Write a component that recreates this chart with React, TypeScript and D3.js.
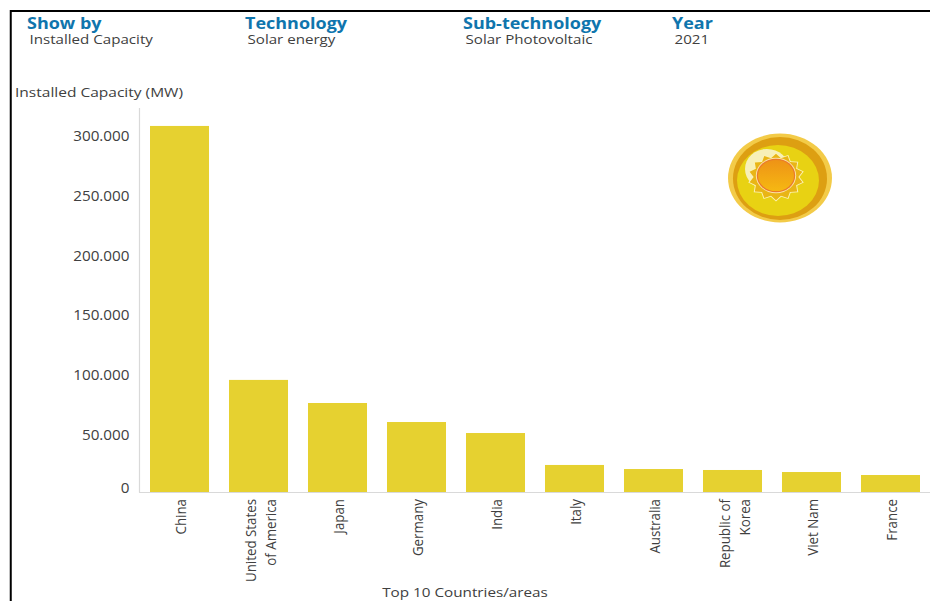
import React from "react";
import * as d3 from "d3";

const WIDTH = 930;
const HEIGHT = 601;

const countries = [
  ["China"],
  ["United States", "of America"],
  ["Japan"],
  ["Germany"],
  ["India"],
  ["Italy"],
  ["Australia"],
  ["Republic of", "Korea"],
  ["Viet Nam"],
  ["France"],
];
const capacityMW = [306000, 93700, 74400, 58500, 49300, 22600, 19200, 18400, 16700, 14200];
const yTicks = [0, 50000, 100000, 150000, 200000, 250000, 300000];
const headerTitles = ["Show by", "Technology", "Sub-technology", "Year"];
const headerValues = ["Installed Capacity", "Solar energy", "Solar Photovoltaic", "2021"];
const headerX = [27, 245, 463, 672];

const FONT = "'Open Sans', sans-serif";
const INK = "#404040";
const BLUE = "#0f75ad";
const BAR = "#e6d130";
const AXIS = "#d9d9d9";

// Thousands are grouped with a dot, as in the axis of the source tool.
const formatTick = (v: number) => d3.format(",")(v).replace(/,/g, ".");

// Decorative sun badge: a scalloped star drawn with d3's radial line.
function SunBadge({ cx, cy }: { cx: number; cy: number }) {
  const points = 14;
  const ray = d3
    .lineRadial<number>()
    .angle((i) => (i / (points * 2)) * 2 * Math.PI)
    .radius((i) => (i % 2 === 0 ? 28.5 : 23.5))
    .curve(d3.curveLinearClosed);
  const star = ray(d3.range(points * 2)) ?? "";
  return (
    <g style={{ filter: "blur(0.7px)" }}>
      <defs>
        <linearGradient id="sun-core" x1="0" y1="0" x2="0" y2="1">
          <stop offset="0" stopColor="#ee9316" />
          <stop offset="1" stopColor="#f6b812" />
        </linearGradient>
      </defs>
      <ellipse cx={cx} cy={cy} rx={52} ry={44.5} fill="#f3cb48" />
      <ellipse cx={cx} cy={cy + 0.5} rx={47} ry={41.5} fill="#dd9f12" />
      <ellipse cx={cx - 2} cy={cy + 2.5} rx={41} ry={35.5} fill="#e8d213" />
      <ellipse cx={cx - 13} cy={cy - 9} rx={22} ry={20} fill="#f7f0b8" />
      <g transform={`translate(${cx - 4},${cy - 1}) scale(1,0.86)`}>
        <path d={star} fill="#fbf2b4" />
        <path d={star} fill="#e9b516" transform="scale(0.95)" />
      </g>
      <ellipse cx={cx - 4} cy={cy - 2.5} rx={20.2} ry={17.8} fill="#fbe2a8" />
      <ellipse cx={cx - 4} cy={cy - 2.5} rx={19.2} ry={16.8} fill="#ea7a2a" />
      <ellipse cx={cx - 4} cy={cy - 2.5} rx={18} ry={15.6} fill="url(#sun-core)" />
    </g>
  );
}

export default function App() {
  const x = d3
    .scaleBand<number>()
    .domain(d3.range(countries.length))
    .range([150, 920])
    .paddingInner(0.253)
    .paddingOuter(0);
  const y = d3.scaleLinear().domain([0, 321000]).range([492, 108]);

  return (
    <svg
      width={WIDTH}
      height={HEIGHT}
      viewBox={`0 0 ${WIDTH} ${HEIGHT}`}
      style={{ position: "fixed", left: 0, top: 0, background: "#fff" }}
      fontFamily={FONT}
    >
      {/* Page frame */}
      <path d="M10.75,601V11H930" fill="none" stroke="#000" strokeWidth={2} />

      {/* Filter summary row */}
      {headerTitles.map((t, i) => (
        <g key={t}>
          <text
            transform={`translate(${headerX[i]},29) scale(1.09,1)`}
            fontSize={16.5}
            fontWeight={700}
            fill={BLUE}
          >
            {t}
          </text>
          <text
            transform={`translate(${headerX[i] + 2.5},44) scale(1.12,1)`}
            fontSize={13.5}
            fill={INK}
          >
            {headerValues[i]}
          </text>
        </g>
      ))}

      <text transform="translate(15,97) scale(1.15,1)" fontSize={13.5} fill={INK}>
        Installed Capacity (MW)
      </text>

      {/* Bars */}
      {capacityMW.map((v, i) => (
        <rect key={i} x={x(i)} y={y(v)} width={x.bandwidth()} height={y(0) - y(v)} fill={BAR} />
      ))}

      {/* Axes */}
      <line x1={139.5} x2={139.5} y1={y.range()[1]} y2={y(0) + 0.5} stroke={AXIS} strokeWidth={1.2} />
      <line x1={139} x2={WIDTH} y1={y(0) + 0.5} y2={y(0) + 0.5} stroke={AXIS} strokeWidth={1.2} />

      {yTicks.map((t) => (
        <text
          key={t}
          transform={`translate(129.5,${t === 0 ? y(0) - 4 : y(t) + 3}) scale(1.09,1)`}
          dy="0.35em"
          textAnchor="end"
          fontSize={14}
          fill={INK}
        >
          {formatTick(t)}
        </text>
      ))}

      {/* Country labels read upward and hang from the baseline */}
      {countries.map((lines, i) => {
        const centre = (x(i) as number) + x.bandwidth() / 2;
        return lines.map((line, j) => {
          const base = lines.length === 1 ? centre + 6.5 : centre + (j === 0 ? -2.5 : 17.5);
          return (
            <text
              key={line}
              transform={`translate(${base},499) rotate(-90) scale(0.87,1)`}
              textAnchor="end"
              fontSize={15.3}
              fill={INK}
            >
              {line}
            </text>
          );
        });
      })}

      <text transform="translate(465,597) scale(1.13,1)" textAnchor="middle" fontSize={13.5} fill={INK}>
        Top 10 Countries/areas
      </text>

      <SunBadge cx={780} cy={178} />
    </svg>
  );
}
